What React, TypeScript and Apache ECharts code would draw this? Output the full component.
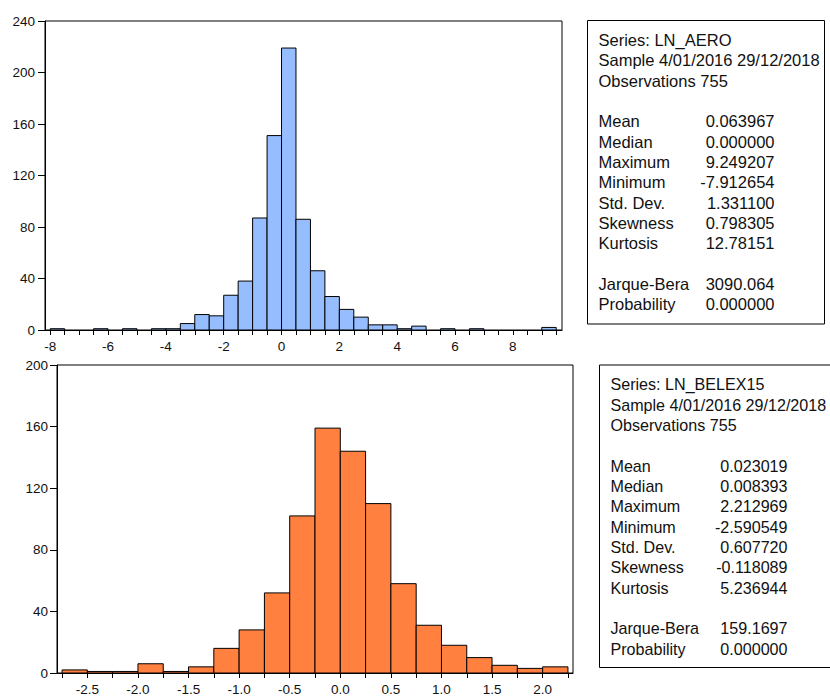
import React, { useEffect, useRef } from "react";
import * as echarts from "echarts";

// ---------- DATA ----------
// LN_AERO histogram: bin starts (width 0.5) and counts
const aeroBinStarts = [-8, -7.5, -7, -6.5, -6, -5.5, -5, -4.5, -4, -3.5, -3, -2.5, -2, -1.5, -1, -0.5, 0, 0.5, 1, 1.5, 2, 2.5, 3, 3.5, 4, 4.5, 5, 5.5, 6, 6.5, 7, 7.5, 8, 8.5, 9];
const aeroCounts = [1, 0, 0, 1, 0, 1, 0, 1, 1, 5, 12, 11, 27, 38, 87, 151, 219, 86, 46, 26, 16, 10, 4, 4, 1, 3, 0, 1, 0, 1, 0, 0, 0, 0, 2];
const aeroBinWidth = 0.5;
const aeroXLabels = [-8, -6, -4, -2, 0, 2, 4, 6, 8];
const aeroYTicks = [0, 40, 80, 120, 160, 200, 240];

// LN_BELEX15 histogram: bin starts (width 0.25) and counts
const belexBinStarts = [-2.75, -2.5, -2.25, -2, -1.75, -1.5, -1.25, -1, -0.75, -0.5, -0.25, 0, 0.25, 0.5, 0.75, 1, 1.25, 1.5, 1.75, 2];
const belexCounts = [2, 1, 1, 6, 1, 4, 16, 28, 52, 102, 159, 144, 110, 58, 31, 18, 10, 5, 3, 4];
const belexBinWidth = 0.25;
const belexXLabels = [-2.5, -2.0, -1.5, -1.0, -0.5, 0.0, 0.5, 1.0, 1.5, 2.0];
const belexYTicks = [0, 40, 80, 120, 160, 200];

// Stats panels
const aeroHeader = ["Series: LN_AERO", "Sample 4/01/2016 29/12/2018", "Observations 755"];
const belexHeader = ["Series: LN_BELEX15", "Sample 4/01/2016 29/12/2018", "Observations 755"];
const statLabels = ["Mean", "Median", "Maximum", "Minimum", "Std. Dev.", "Skewness", "Kurtosis"];
const aeroStatValues = ["0.063967", "0.000000", "9.249207", "-7.912654", "1.331100", "0.798305", "12.78151"];
const belexStatValues = ["0.023019", "0.008393", "2.212969", "-2.590549", "0.607720", "-0.118089", "5.236944"];
const testLabels = ["Jarque-Bera", "Probability"];
const aeroTestValues = ["3090.064", "0.000000"];
const belexTestValues = ["159.1697", "0.000000"];

const FONT = "'Liberation Sans', Arial, Helvetica, sans-serif";

function makeTicks(starts: number[], w: number) {
  return [...starts, starts[starts.length - 1] + w];
}

function histSeries(gridIndex: number, starts: number[], counts: number[], w: number, color: string) {
  return {
    type: "custom",
    xAxisIndex: gridIndex,
    yAxisIndex: gridIndex,
    data: starts.map((s, i) => [s, s + w, counts[i]]),
    encode: { x: [0, 1], y: 2 },
    renderItem: (params: any, api: any) => {
      const x0 = api.value(0);
      const x1 = api.value(1);
      const c = api.value(2);
      if (!c) return null;
      const p0 = api.coord([x0, c]);
      const p1 = api.coord([x1, 0]);
      return {
        type: "rect",
        shape: { x: p0[0], y: p0[1], width: p1[0] - p0[0], height: p1[1] - p0[1] },
        style: { fill: color, stroke: "#000", lineWidth: 1 },
      };
    },
  };
}

function statsGraphics(left: number, top: number, width: number, height: number, textX: number, valueRight: number, firstY: number, lh: number, fontSize: number, header: string[], values: string[], tests: string[]) {
  const els: any[] = [];
  els.push({
    type: "rect",
    shape: { x: left, y: top, width, height },
    style: { fill: "#fff", stroke: "#000", lineWidth: 1 },
  });
  const txt = (x: number, y: number, s: string, align: string) => ({
    type: "text",
    x,
    y,
    style: { text: s, fill: "#111", font: `${fontSize}px ${FONT}`, textAlign: align, textVerticalAlign: "middle" },
  });
  header.forEach((h, i) => els.push(txt(textX, firstY + i * lh, h, "left")));
  statLabels.forEach((l, i) => {
    els.push(txt(textX, firstY + (i + 4) * lh, l, "left"));
    els.push(txt(valueRight, firstY + (i + 4) * lh, values[i], "right"));
  });
  testLabels.forEach((l, i) => {
    els.push(txt(textX, firstY + (i + 12) * lh, l, "left"));
    els.push(txt(valueRight, firstY + (i + 12) * lh, tests[i], "right"));
  });
  return els;
}

export default function App() {
  const ref = useRef<HTMLDivElement>(null);
  useEffect(() => {
    if (!ref.current) return;
    const chart = echarts.init(ref.current, null, { renderer: "svg" });
    const axisText = { color: "#111", fontFamily: FONT, fontSize: 13.5 };
    const xAxisBase = (min: number, max: number, ticks: number[], labels: number[], dec: number) => ({
      type: "value",
      min,
      max,
      axisLine: { show: true, onZero: false, lineStyle: { color: "#000", width: 1 } },
      axisTick: { show: true, length: 5, customValues: ticks, lineStyle: { color: "#000" } },
      axisLabel: { ...axisText, margin: 9, customValues: labels, formatter: (v: number) => v.toFixed(dec) },
      splitLine: { show: false },
    });
    const yAxisBase = (ticks: number[], margin: number) => ({
      type: "value",
      min: ticks[0],
      max: ticks[ticks.length - 1],
      interval: ticks[1] - ticks[0],
      axisLine: { show: true, onZero: false, lineStyle: { color: "#000", width: 1 } },
      axisTick: { show: true, length: 7, lineStyle: { color: "#000" } },
      axisLabel: { ...axisText, margin },
      splitLine: { show: false },
    });
    chart.setOption({
      animation: false,
      backgroundColor: "#fff",
      grid: [
        { left: 45, top: 21, width: 517, height: 309, show: true, borderColor: "#000", borderWidth: 1, backgroundColor: "transparent" },
        { left: 57, top: 365, width: 516, height: 308, show: true, borderColor: "#000", borderWidth: 1, backgroundColor: "transparent" },
      ],
      xAxis: [
        { gridIndex: 0, ...xAxisBase(-8.18, 9.7, makeTicks(aeroBinStarts, aeroBinWidth), aeroXLabels, 0) },
        { gridIndex: 1, ...xAxisBase(-2.8, 2.3, makeTicks(belexBinStarts, belexBinWidth), belexXLabels, 1) },
      ],
      yAxis: [
        { gridIndex: 0, ...yAxisBase(aeroYTicks, 10) },
        { gridIndex: 1, ...yAxisBase(belexYTicks, 9) },
      ],
      series: [
        histSeries(0, aeroBinStarts, aeroCounts, aeroBinWidth, "#96BEFF"),
        histSeries(1, belexBinStarts, belexCounts, belexBinWidth, "#FF803F"),
      ],
      graphic: [
        ...statsGraphics(587.5, 20.5, 237, 303.5, 598.5, 774.5, 40, 20.33, 16.5, aeroHeader, aeroStatValues, aeroTestValues),
        ...statsGraphics(599.5, 365, 250, 302.5, 610.5, 787.5, 384.3, 20.33, 16.1, belexHeader, belexStatValues, belexTestValues),
      ],
    });
    return () => chart.dispose();
  }, []);
  return <div ref={ref} style={{ position: "absolute", left: 0, top: 0, width: 830, height: 696 }} />;
}
